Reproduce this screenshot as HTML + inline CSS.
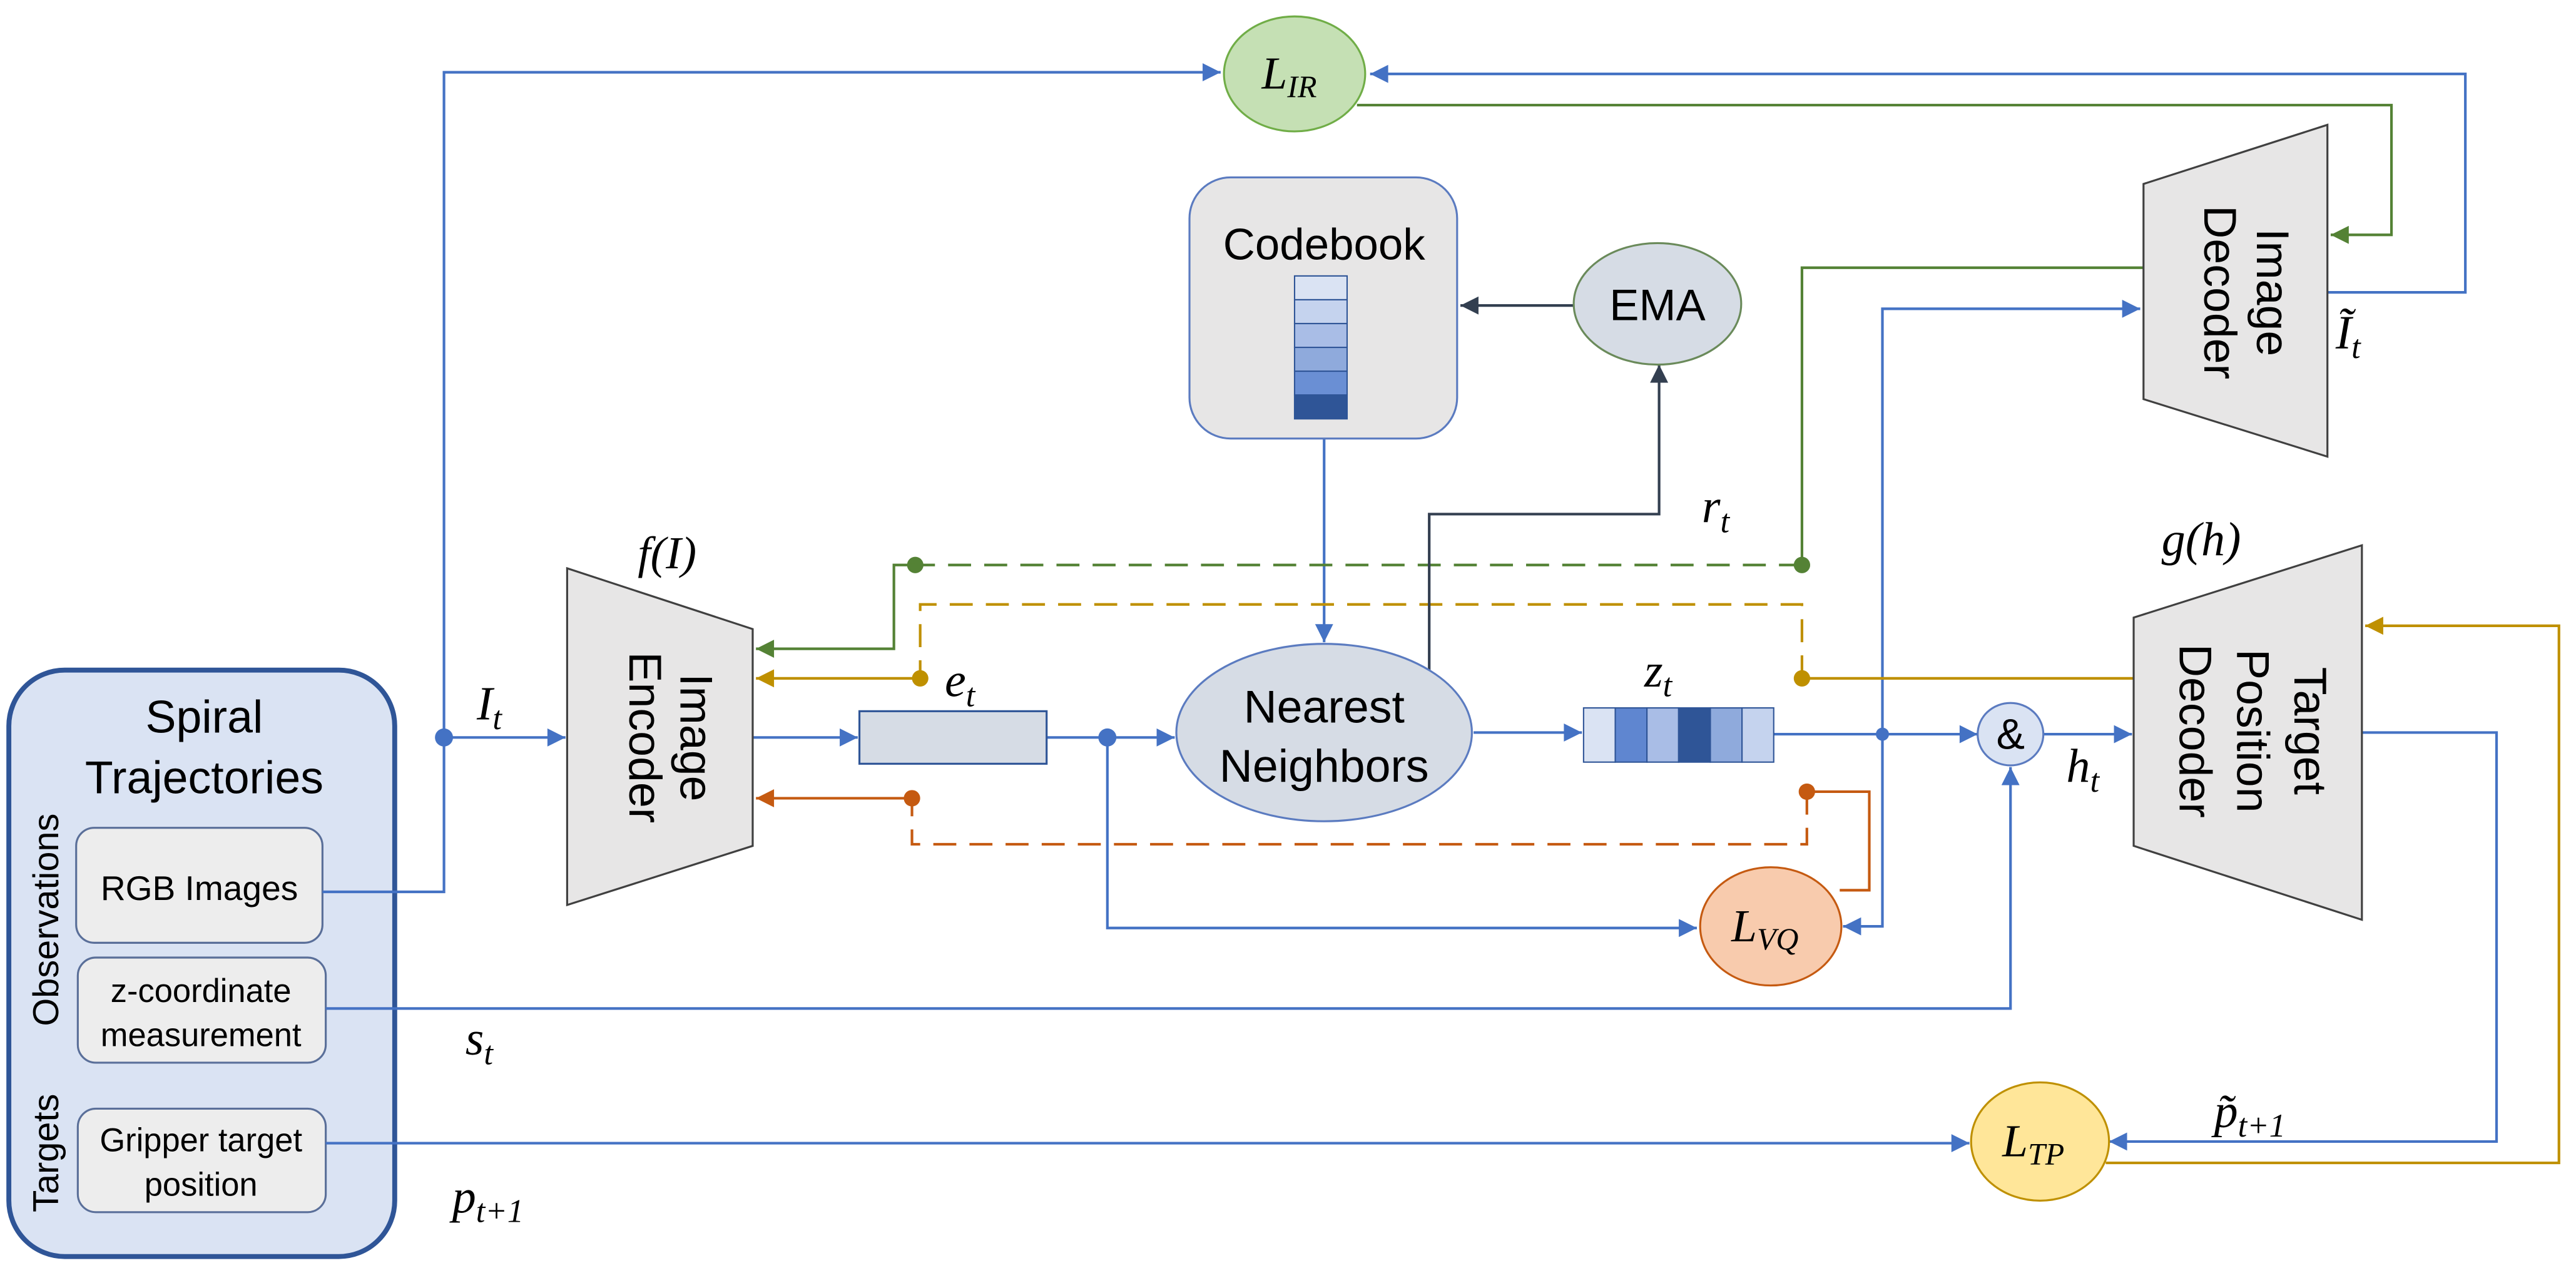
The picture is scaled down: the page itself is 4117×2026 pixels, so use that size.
<!DOCTYPE html>
<html><head><meta charset="utf-8"><style>
html,body{margin:0;padding:0;background:#fff;}
svg{display:block;}
.s{font-family:"Liberation Sans",sans-serif;fill:#000;}
.m{font-family:"Liberation Serif","DejaVu Serif",serif;font-style:italic;fill:#000;}
</style></head><body>
<svg width="4117" height="2026" viewBox="0 0 1568 772" xmlns="http://www.w3.org/2000/svg">
<defs>
<marker id="ab" viewBox="0 0 10 10" refX="10" refY="5" markerWidth="12" markerHeight="11" orient="auto" markerUnits="userSpaceOnUse"><path d="M0,0L10,5L0,10z" fill="#4472c4"/></marker>
<marker id="ag" viewBox="0 0 10 10" refX="10" refY="5" markerWidth="12" markerHeight="11" orient="auto" markerUnits="userSpaceOnUse"><path d="M0,0L10,5L0,10z" fill="#548235"/></marker>
<marker id="ay" viewBox="0 0 10 10" refX="10" refY="5" markerWidth="12" markerHeight="11" orient="auto" markerUnits="userSpaceOnUse"><path d="M0,0L10,5L0,10z" fill="#bf9000"/></marker>
<marker id="ao" viewBox="0 0 10 10" refX="10" refY="5" markerWidth="12" markerHeight="11" orient="auto" markerUnits="userSpaceOnUse"><path d="M0,0L10,5L0,10z" fill="#c55a11"/></marker>
<marker id="ad" viewBox="0 0 10 10" refX="10" refY="5" markerWidth="12" markerHeight="11" orient="auto" markerUnits="userSpaceOnUse"><path d="M0,0L10,5L0,10z" fill="#333f50"/></marker>
</defs>
<style>
.b{stroke:#4472c4;stroke-width:1.6;fill:none}
.g{stroke:#548235;stroke-width:1.6;fill:none}
.y{stroke:#bf9000;stroke-width:1.6;fill:none}
.o{stroke:#c55a11;stroke-width:1.6;fill:none}
.d{stroke:#333f50;stroke-width:1.6;fill:none}
</style>

<rect x="5" y="408" width="235" height="357" rx="34" fill="#dae3f3" stroke="#2f5597" stroke-width="3"/>
<text class="s" x="124" y="446" font-size="28" text-anchor="middle">Spiral</text>
<text class="s" x="124" y="483" font-size="28" text-anchor="middle">Trajectories</text>
<text class="s" font-size="22" text-anchor="middle" transform="translate(35,560) rotate(-90)">Observations</text>
<text class="s" font-size="22" text-anchor="middle" transform="translate(35,702) rotate(-90)">Targets</text>
<rect x="46" y="504" width="150" height="70" rx="11" fill="#ededed" stroke="#5a6f99" stroke-width="1.2"/>
<text class="s" x="121" y="548" font-size="21" text-anchor="middle">RGB Images</text>
<rect x="47" y="583" width="151" height="64" rx="11" fill="#ededed" stroke="#5a6f99" stroke-width="1.2"/>
<text class="s" x="122" y="610" font-size="20" text-anchor="middle">z-coordinate</text>
<text class="s" x="122" y="637" font-size="20" text-anchor="middle">measurement</text>
<rect x="47" y="675" width="151" height="63" rx="11" fill="#ededed" stroke="#5a6f99" stroke-width="1.2"/>
<text class="s" x="122" y="701" font-size="20" text-anchor="middle">Gripper target</text>
<text class="s" x="122" y="728" font-size="20" text-anchor="middle">position</text>

<path class="b" d="M196,543H270V44H743" marker-end="url(#ab)"/>
<path class="b" d="M270,449H344" marker-end="url(#ab)"/>
<circle cx="270" cy="449" r="5.5" fill="#4472c4"/>
<path class="b" d="M458,449H522" marker-end="url(#ab)"/>
<path class="b" d="M637,449H715" marker-end="url(#ab)"/>
<circle cx="674" cy="449" r="5.5" fill="#4472c4"/>
<path class="b" d="M674,449V565H1033" marker-end="url(#ab)"/>
<path class="b" d="M806,267V391" marker-end="url(#ab)"/>
<path class="b" d="M897,446H963" marker-end="url(#ab)"/>
<path class="b" d="M1080,447H1204" marker-end="url(#ab)"/>
<circle cx="1146" cy="447" r="4" fill="#4472c4"/>
<path class="b" d="M1146,447V188H1303" marker-end="url(#ab)"/>
<path class="b" d="M1146,447V564H1122" marker-end="url(#ab)"/>
<path class="b" d="M1244,447H1298" marker-end="url(#ab)"/>
<path class="b" d="M198,614H1224V467" marker-end="url(#ab)"/>
<path class="b" d="M198,696H1199" marker-end="url(#ab)"/>
<path class="b" d="M1436,446H1520V695H1284" marker-end="url(#ab)"/>
<path class="b" d="M1417,178H1501V45H834" marker-end="url(#ab)"/>

<path class="g" d="M826,64H1456V143H1419" marker-end="url(#ag)"/>
<path class="g" d="M1305,163H1097V344"/>
<path class="g" d="M1097,344H557" stroke-dasharray="14,8"/>
<circle cx="1097" cy="344" r="5" fill="#548235"/>
<circle cx="557" cy="344" r="5" fill="#548235"/>
<path class="g" d="M557,344H544V395H460" marker-end="url(#ag)"/>

<path class="y" d="M1299,413H1097"/>
<path class="y" d="M1097,413V368H560V413" stroke-dasharray="14,8"/>
<circle cx="1097" cy="413" r="5" fill="#bf9000"/>
<circle cx="560" cy="413" r="5" fill="#bf9000"/>
<path class="y" d="M560,413H460" marker-end="url(#ay)"/>
<path class="y" d="M1282,708H1558V381H1440" marker-end="url(#ay)"/>

<path class="o" d="M1120,542H1138V482H1100"/>
<path class="o" d="M1100,482V514H555V486" stroke-dasharray="14,8"/>
<circle cx="1100" cy="482" r="5" fill="#c55a11"/>
<circle cx="555" cy="486" r="5" fill="#c55a11"/>
<path class="o" d="M555,486H460" marker-end="url(#ao)"/>

<path class="d" d="M870,410V313H1010V222" marker-end="url(#ad)"/>
<path class="d" d="M959,186H889" marker-end="url(#ad)"/>

<polygon points="345,346 458,383 458,515 345,551" fill="#e7e6e6" stroke="#404040" stroke-width="1.2"/>
<text class="s" font-size="28" text-anchor="middle" transform="translate(414,449) rotate(90)">Image</text>
<text class="s" font-size="28" text-anchor="middle" transform="translate(383,449) rotate(90)">Encoder</text>

<rect x="523" y="433" width="114" height="32" fill="#d6dce5" stroke="#2f5597" stroke-width="1.2"/>

<rect x="724" y="108" width="163" height="159" rx="25" fill="#e7e6e6" stroke="#5b7bc0" stroke-width="1.2"/>
<text class="s" x="806" y="158" font-size="27" text-anchor="middle">Codebook</text>
<g stroke="#2f5597" stroke-width="0.8">
<rect x="788" y="168" width="32" height="14.5" fill="#dae3f3"/>
<rect x="788" y="182.5" width="32" height="14.5" fill="#c5d3ee"/>
<rect x="788" y="197" width="32" height="14.5" fill="#a9bde6"/>
<rect x="788" y="211.5" width="32" height="14.5" fill="#8faadc"/>
<rect x="788" y="226" width="32" height="14.5" fill="#6a8fd4"/>
<rect x="788" y="240.5" width="32" height="14.5" fill="#2f5597"/>
</g>

<ellipse cx="1009" cy="185" rx="51" ry="37" fill="#d6dce5" stroke="#6a8a5a" stroke-width="1.2"/>
<text class="s" x="1009" y="195" font-size="27" text-anchor="middle">EMA</text>

<ellipse cx="806" cy="446" rx="90" ry="54" fill="#d6dce5" stroke="#5b7bc0" stroke-width="1.2"/>
<text class="s" x="806" y="440" font-size="28" text-anchor="middle">Nearest</text>
<text class="s" x="806" y="476" font-size="28" text-anchor="middle">Neighbors</text>

<g stroke="#2f5597" stroke-width="0.8">
<rect x="964" y="431" width="19.3" height="33" fill="#dae3f3"/>
<rect x="983.3" y="431" width="19.3" height="33" fill="#5f86d0"/>
<rect x="1002.6" y="431" width="19.3" height="33" fill="#a9bde6"/>
<rect x="1021.9" y="431" width="19.3" height="33" fill="#2f5597"/>
<rect x="1041.2" y="431" width="19.3" height="33" fill="#8faadc"/>
<rect x="1060.5" y="431" width="19.3" height="33" fill="#c5d3ee"/>
</g>

<ellipse cx="1224" cy="447" rx="20" ry="19" fill="#dae3f3" stroke="#5b7bc0" stroke-width="1.2"/>
<text class="s" x="1224" y="456" font-size="26" text-anchor="middle">&amp;</text>

<polygon points="1305,112 1417,76 1417,278 1305,243" fill="#e7e6e6" stroke="#404040" stroke-width="1.2"/>
<text class="s" font-size="28" text-anchor="middle" transform="translate(1374,178) rotate(90)">Image</text>
<text class="s" font-size="28" text-anchor="middle" transform="translate(1342,178) rotate(90)">Decoder</text>

<polygon points="1299,376 1438,332 1438,560 1299,515" fill="#e7e6e6" stroke="#404040" stroke-width="1.2"/>
<text class="s" font-size="28" text-anchor="middle" transform="translate(1397,445) rotate(90)">Target</text>
<text class="s" font-size="28" text-anchor="middle" transform="translate(1362,445) rotate(90)">Position</text>
<text class="s" font-size="28" text-anchor="middle" transform="translate(1327,445) rotate(90)">Decoder</text>

<ellipse cx="788" cy="45" rx="43" ry="35" fill="#c5e0b4" stroke="#70ad47" stroke-width="1.2"/>
<text class="m" x="768" y="54" font-size="28">L<tspan font-size="19" dy="5">IR</tspan></text>
<ellipse cx="1078" cy="564" rx="43" ry="36" fill="#f8cbad" stroke="#c55a11" stroke-width="1.2"/>
<text class="m" x="1054" y="573" font-size="28">L<tspan font-size="19" dy="5">VQ</tspan></text>
<ellipse cx="1242" cy="695" rx="42" ry="36" fill="#ffe699" stroke="#bf9000" stroke-width="1.2"/>
<text class="m" x="1219" y="704" font-size="28">L<tspan font-size="19" dy="5">TP</tspan></text>

<text class="m" x="388" y="346" font-size="28">f(I)</text>
<text class="m" x="290" y="438" font-size="29">I<tspan font-size="20" dy="6">t</tspan></text>
<text class="m" x="575" y="424" font-size="29">e<tspan font-size="20" dy="6">t</tspan></text>
<text class="m" x="1001" y="418" font-size="29">z<tspan font-size="20" dy="6">t</tspan></text>
<text class="m" x="1036" y="318" font-size="29">r<tspan font-size="20" dy="6">t</tspan></text>
<text class="m" x="1316" y="338" font-size="29">g(h)</text>
<text class="m" x="1258" y="476" font-size="29">h<tspan font-size="20" dy="6">t</tspan></text>
<text class="m" x="1422" y="212" font-size="29">Ĩ<tspan font-size="20" dy="6">t</tspan></text>
<text class="m" x="1348" y="686" font-size="29">p̃<tspan font-size="20" dy="6">t+1</tspan></text>
<text class="m" x="283" y="642" font-size="29">s<tspan font-size="20" dy="6">t</tspan></text>
<text class="m" x="275" y="738" font-size="29">p<tspan font-size="20" dy="6">t+1</tspan></text>
</svg>
</body></html>
